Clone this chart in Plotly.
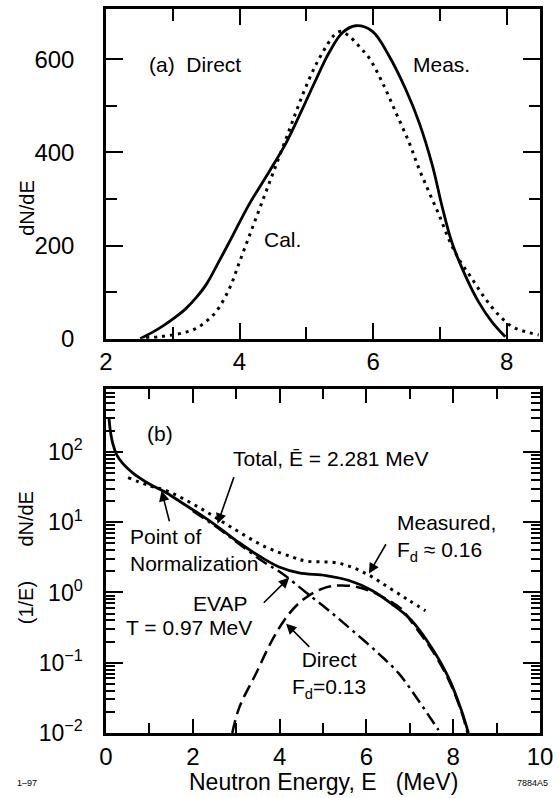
import math
import plotly.graph_objects as go

# ---------------- data: panel (a) ----------------
meas_a_x = [2.51, 2.70, 2.86, 3.03, 3.20, 3.35, 3.50, 3.70, 3.90, 4.15, 4.45, 4.70, 4.94, 5.14,
            5.34, 5.54, 5.74, 5.99, 6.24, 6.49, 6.69, 6.89, 7.03, 7.18, 7.38, 7.58, 7.78, 7.98]
meas_a_y = [0, 14, 28, 45, 65, 88, 116, 168, 222, 290, 360, 421, 493, 555,
            614, 657, 672, 660, 607, 535, 464, 371, 286, 207, 136, 79, 36, 4]

cal_a_x = [2.6, 2.8, 3.0, 3.2, 3.35, 3.5, 3.65, 3.85, 4.0, 4.15, 4.30, 4.45, 4.60, 4.75, 4.87,
           5.0, 5.15, 5.3, 5.42, 5.52, 5.64, 5.79, 5.94, 6.14, 6.34, 6.54, 6.69, 6.84, 6.99,
           7.13, 7.28, 7.48, 7.68, 7.88, 8.08, 8.28, 8.48]
cal_a_y = [2, 4, 8, 14, 22, 37, 58, 108, 165, 222, 279, 336, 393, 450, 496,
           543, 590, 628, 652, 660, 650, 628, 603, 550, 486, 421, 364, 314, 265,
           215, 172, 129, 86, 51, 26, 15, 8]

# ---------------- data: panel (b) ----------------
meas_b_x = [0.07, 0.10, 0.16, 0.25, 0.39, 0.62, 1.0, 1.40, 1.8, 2.16, 2.61, 3.07, 3.53, 3.99,
            4.45, 5.07, 5.60, 6.13, 6.58, 7.04, 7.50, 7.89, 8.19, 8.35]
meas_b_y = [300, 200, 129, 90, 68, 50, 35, 26, 18, 13, 8.3, 5.1, 3.3, 2.3,
            1.9, 1.74, 1.48, 1.07, 0.69, 0.40, 0.165, 0.062, 0.021, 0.01]

total_b_x = [0.51, 1.0, 1.40, 2.16, 2.91, 3.69, 4.29, 4.61, 5.37, 5.99, 6.51, 6.97, 7.36]
total_b_y = [43, 33, 28, 16, 8.3, 4.4, 3.2, 2.8, 2.6, 1.86, 1.18, 0.78, 0.55]

evap_b_x = [2.0, 2.61, 3.07, 3.6, 4.06, 4.61, 5.14, 5.67, 6.28, 6.74, 7.20, 7.66]
evap_b_y = [14.5, 8.0, 4.9, 2.8, 1.86, 1.0, 0.55, 0.29, 0.135, 0.071, 0.029, 0.011]

direct_b_x = [2.91, 3.07, 3.46, 3.83, 4.22, 4.61, 5.07, 5.44, 5.90, 6.44, 6.81, 7.04, 7.5, 7.89, 8.19, 8.33]
direct_b_y = [0.01, 0.023, 0.071, 0.21, 0.50, 0.85, 1.18, 1.26, 1.15, 0.82, 0.58, 0.38, 0.155, 0.058, 0.02, 0.01]

# tick values / labels
a_xticks = [2, 4, 6, 8]
a_xminor = [3, 5, 7]
a_yticks = [0, 200, 400, 600]
a_yminor = [100, 300, 500]
b_xticks = [0, 2, 4, 6, 8, 10]
b_xminor = [1, 3, 5, 7, 9]
b_yticks = [0.01, 0.1, 1, 10, 100]
b_ytext = ["10<sup>−2</sup>", "10<sup>−1</sup>", "10<sup>0</sup>", "10<sup>1</sup>", "10<sup>2</sup>"]
b_yminor = [m * 10 ** k for k in range(-2, 3) for m in range(2, 10)]

FONT = "Liberation Sans, Arial, sans-serif"
BLACK = "#000000"

fig = go.Figure()

fig.add_trace(go.Scatter(x=meas_a_x, y=meas_a_y, mode="lines", line=dict(color=BLACK, width=2.8, shape="spline"),
                         xaxis="x", yaxis="y", showlegend=False))
fig.add_trace(go.Scatter(x=cal_a_x, y=cal_a_y, mode="lines",
                         line=dict(color=BLACK, width=3, dash="3px,5px", shape="spline"),
                         xaxis="x", yaxis="y", showlegend=False))

fig.add_trace(go.Scatter(x=total_b_x, y=total_b_y, mode="lines",
                         line=dict(color=BLACK, width=3, dash="3px,5px", shape="spline"),
                         xaxis="x2", yaxis="y2", showlegend=False))
fig.add_trace(go.Scatter(x=evap_b_x, y=evap_b_y, mode="lines",
                         line=dict(color=BLACK, width=2.5, dash="13px,5px,3px,5px", shape="spline"),
                         xaxis="x2", yaxis="y2", showlegend=False))
fig.add_trace(go.Scatter(x=direct_b_x, y=direct_b_y, mode="lines",
                         line=dict(color=BLACK, width=2.5, dash="13px,6px", shape="spline"),
                         xaxis="x2", yaxis="y2", showlegend=False))
fig.add_trace(go.Scatter(x=meas_b_x, y=meas_b_y, mode="lines", line=dict(color=BLACK, width=2.8, shape="spline"),
                         xaxis="x2", yaxis="y2", showlegend=False))


def tf(size):
    return dict(family=FONT, size=size, color=BLACK)


common = dict(showgrid=False, zeroline=False, showline=True, linecolor=BLACK, linewidth=2.5,
              mirror="allticks", ticks="inside", tickcolor=BLACK, tickwidth=2)

fig.update_layout(
    width=559, height=798,
    margin=dict(l=106, r=16, t=6, b=65),
    paper_bgcolor="white", plot_bgcolor="white",
    font=tf(21),
    xaxis=dict(domain=[0, 1], anchor="y", range=[2, 8.5], tickmode="array", tickvals=a_xticks,
               ticklen=16, ticklabelstandoff=0, tickfont=tf(24),
               minor=dict(tickmode="array", tickvals=a_xminor, ticks="inside", ticklen=12,
                          tickcolor=BLACK, tickwidth=2),
               **common),
    yaxis=dict(domain=[0.5447, 1], anchor="x", range=[0, 708], tickmode="array", tickvals=a_yticks,
               ticklen=17, ticklabelstandoff=24, tickfont=tf(24),
               minor=dict(tickmode="array", tickvals=a_yminor, ticks="inside", ticklen=11,
                          tickcolor=BLACK, tickwidth=2),
               **common),
    xaxis2=dict(domain=[0, 1], anchor="y2", range=[0, 10], tickmode="array", tickvals=b_xticks,
                ticklen=14, ticklabelstandoff=0, tickfont=tf(24),
                minor=dict(tickmode="array", tickvals=b_xminor, ticks="inside", ticklen=10,
                           tickcolor=BLACK, tickwidth=2),
                **common),
    yaxis2=dict(domain=[0, 0.4746], anchor="x2", type="log", range=[-2, 2.89], tickmode="array",
                tickvals=b_yticks, ticktext=b_ytext, ticklen=17, ticklabelstandoff=16, tickfont=tf(23),
                minor=dict(tickmode="array", tickvals=b_yminor, ticks="inside", ticklen=9,
                           tickcolor=BLACK, tickwidth=1.5),
                **common),
)

ann = []


def txt(x, y, text, xref, yref, xanchor="left", align="left", size=21, angle=0):
    ann.append(dict(x=x, y=y, xref=xref, yref=yref, text=text, showarrow=False,
                    xanchor=xanchor, yanchor="middle", align=align, textangle=angle,
                    font=tf(size)))


def arrow(hx, hy, tx, ty):
    ann.append(dict(x=hx, y=math.log10(hy), ax=tx, ay=math.log10(ty), xref="x2", yref="y2",
                    axref="x2", ayref="y2", text="", showarrow=True, arrowhead=2, arrowsize=1.3,
                    arrowwidth=1.6, arrowcolor=BLACK, standoff=0, startstandoff=0))


# panel (a) labels
txt(2.61, 588, "(a)  Direct", "x", "y")
txt(6.57, 588, "Meas.", "x", "y")
txt(4.34, 212, "Cal.", "x", "y")

# panel (b) labels (log axis: y in log10 units)
txt(1.24, 2.26, "(b)", "x2", "y2", xanchor="center")
txt(2.89, 1.90, "Total, Ē = 2.281 MeV", "x2", "y2")
txt(0.50, 0.61, "Point of<br>Normalization", "x2", "y2")
txt(6.65, 0.77, "Measured,<br>F<sub>d</sub> ≈ 0.16", "x2", "y2")
txt(3.30, -0.16, "EVAP", "x2", "y2", xanchor="right")
txt(0.41, -0.50, "T = 0.97 MeV", "x2", "y2")
txt(5.14, -1.18, "Direct<br>F<sub>d</sub>=0.13", "x2", "y2", xanchor="center", align="center")

arrow(2.57, 9.5, 2.96, 46)
arrow(1.28, 28, 1.47, 9.8)
arrow(6.06, 1.86, 6.47, 5.1)
arrow(4.22, 1.62, 3.6, 0.68)
arrow(4.15, 0.36, 4.72, 0.16)

# axis titles and footnotes (paper coords)
txt(-0.181, 0.726, "dN/dE", "paper", "paper", xanchor="center", angle=-90, size=20)
txt(-0.185, 0.2957, "dN/dE", "paper", "paper", xanchor="center", angle=-90, size=20)
txt(-0.185, 0.1802, "(1/E)", "paper", "paper", xanchor="center", angle=-90, size=20)
txt(0.5, -0.0674, "Neutron Energy, E   (MeV)", "paper", "paper", xanchor="center", size=23)
txt(-0.21, -0.0688, "1–97", "paper", "paper", size=9)
txt(1.023, -0.0688, "7884A5", "paper", "paper", xanchor="right", size=9)

fig.update_layout(annotations=ann)

fig.write_html("out.html")
